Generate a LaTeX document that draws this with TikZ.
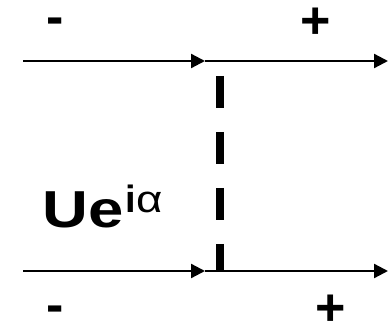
\documentclass[tikz,border=0pt]{standalone}
\usepackage{fontspec}
\setmainfont{Liberation Sans}
\usetikzlibrary{arrows.meta}
\tikzset{
  flow/.style={line width=2.3pt, -{Triangle[length=14pt,width=14pt]}},
  cut/.style={line width=8pt, dash pattern=on 32pt off 24pt},
  sign/.style={font=\fontsize{52}{52}\selectfont\bfseries, inner sep=0pt, anchor=base},
  big/.style={font=\fontsize{52}{52}\selectfont\bfseries, inner sep=0pt, anchor=base west}
}
\begin{document}
\begin{tikzpicture}[x=1pt,y=-1pt]
\useasboundingbox (0,0) rectangle (389,323);
\coordinate (tl) at (23,61);
\coordinate (tm) at (205,61);
\coordinate (tr) at (388,61);
\coordinate (bl) at (23,271);
\coordinate (bm) at (205,271);
\coordinate (br) at (388,271);
\coordinate (ct) at (220,76);
\coordinate (cb) at (220,272);
\draw[flow] (tl) -- (tm);
\draw[flow] (tm) -- (tr);
\draw[flow] (bl) -- (bm);
\draw[flow] (bm) -- (br);
\draw[cut] (ct) -- (cb);
\node[sign] (tminus) at (55,34.5) {-};
\node[sign] (tplus) at (315.5,39) {+};
\node[sign] (bminus) at (55,322.5) {-};
\node[sign] (bplus) at (330.5,326) {+};
\node[big] (lbl) at (42,228) {\scalebox{1.22}[1]{Ue}\hspace{2pt}\raisebox{15pt}{\fontsize{38}{38}\selectfont i\hspace{1pt}\mdseries\scalebox{1.2}[1]{α}}};
\end{tikzpicture}
\end{document}
